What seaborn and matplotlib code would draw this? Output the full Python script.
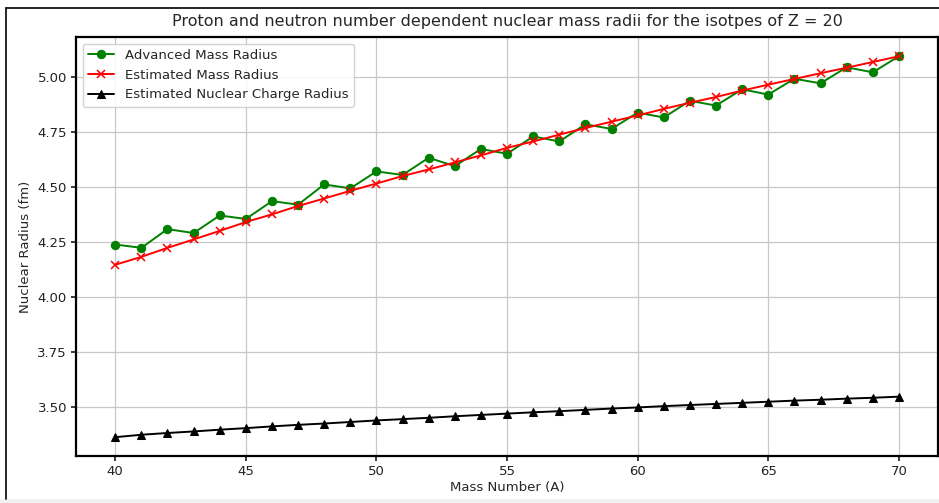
import numpy as np
import pandas as pd
import seaborn as sns
import matplotlib
matplotlib.use("Agg")
import matplotlib.pyplot as plt
from matplotlib.patches import Rectangle
from matplotlib.lines import Line2D

mass_numbers = list(range(40, 71))
advanced_mass_radius = [4.239, 4.224, 4.309, 4.291, 4.371, 4.355, 4.436, 4.420, 4.512, 4.494,
                        4.571, 4.555, 4.633, 4.595, 4.673, 4.651, 4.730, 4.707, 4.785, 4.764,
                        4.838, 4.816, 4.892, 4.870, 4.944, 4.920, 4.992, 4.971, 5.044, 5.021, 5.094]
estimated_mass_radius = [4.147, 4.183, 4.224, 4.262, 4.301, 4.341, 4.376, 4.414, 4.448, 4.483,
                         4.516, 4.550, 4.580, 4.612, 4.644, 4.678, 4.707, 4.738, 4.768, 4.797,
                         4.825, 4.855, 4.883, 4.909, 4.938, 4.965, 4.991, 5.017, 5.042, 5.068, 5.094]
estimated_charge_radius = [3.364, 3.375, 3.383, 3.390, 3.398, 3.405, 3.413, 3.420, 3.426, 3.433,
                           3.440, 3.446, 3.452, 3.459, 3.465, 3.471, 3.477, 3.482, 3.488, 3.494,
                           3.499, 3.505, 3.510, 3.515, 3.520, 3.525, 3.530, 3.534, 3.539, 3.543, 3.548]

sns.set_theme(style="whitegrid")
plt.rcParams['font.family'] = ['DejaVu Sans']
plt.rcParams.update({
    "axes.edgecolor": "black",
    "grid.color": "#c8c8c8",
    "grid.linewidth": 0.9,
    "xtick.bottom": True,
    "ytick.left": True,
    "xtick.major.size": 3.5,
    "ytick.major.size": 3.5,
    "xtick.color": "#222222",
    "ytick.color": "#222222",
})

fig = plt.figure(figsize=(9.39, 5.03), dpi=100)
ax = fig.add_axes([0.081, 0.093, 0.918, 0.833])

df = pd.DataFrame({"A": mass_numbers, "adv": advanced_mass_radius,
                   "est": estimated_mass_radius, "chg": estimated_charge_radius})

sns.lineplot(data=df, x="A", y="adv", ax=ax, color="green", marker="o", markersize=6,
             markeredgecolor="green", linewidth=1.4, label="Advanced Mass Radius")
sns.lineplot(data=df, x="A", y="est", ax=ax, color="red", marker="x", markersize=5.5,
             markeredgecolor="red", markeredgewidth=1.1, linewidth=1.4, label="Estimated Mass Radius")
sns.lineplot(data=df, x="A", y="chg", ax=ax, color="black", marker="^", markersize=6,
             markeredgecolor="black", linewidth=1.4, label="Estimated Nuclear Charge Radius")

ax.set_xticks([40, 45, 50, 55, 60, 65, 70])
ax.set_yticks([3.50, 3.75, 4.00, 4.25, 4.50, 4.75, 5.00])
ax.set_yticklabels([f"{v:.2f}" for v in [3.50, 3.75, 4.00, 4.25, 4.50, 4.75, 5.00]])
ax.tick_params(labelsize=9.5, pad=3)
ax.set_xlabel("Mass Number (A)", fontsize=9.5, labelpad=2)
ax.set_ylabel("Nuclear Radius (fm)", fontsize=9.5)
ax.set_title("Proton and neutron number dependent nuclear mass radii for the isotpes of Z = 20",
             fontsize=11.5, pad=8)
for s in ax.spines.values():
    s.set_linewidth(1.6)
    s.set_color("black")

ax.legend(loc="upper left", fontsize=9.5, frameon=True, framealpha=0.85,
          edgecolor="#cccccc", borderaxespad=0.5)

# screenshot frame: grey strip at bottom, left and top border lines
fig.patches.append(Rectangle((0, 0), 1.0, 4/503, transform=fig.transFigure,
                             facecolor="#f2f2f2", edgecolor="none", zorder=0))
fig.lines.append(Line2D([6/939, 6/939], [1 - 499/503, 1 - 8/503], transform=fig.transFigure,
                        color="black", linewidth=1.2))
fig.lines.append(Line2D([6/939, 1.0], [1 - 8/503, 1 - 8/503], transform=fig.transFigure,
                        color="black", linewidth=1.2))

fig.savefig("out.png", dpi=100)
